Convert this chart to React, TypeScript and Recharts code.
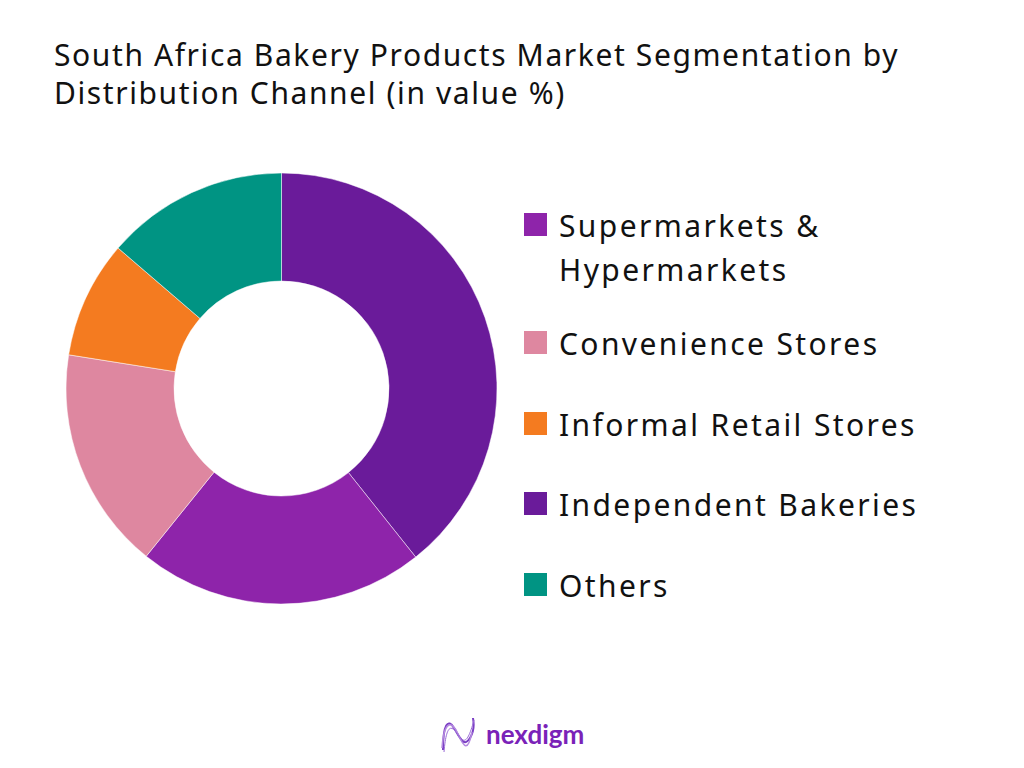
import React from 'react'
import { PieChart, Pie, Cell, Legend } from 'recharts'

// slice order, clockwise from 12 o'clock
const sliceNames = ['Independent Bakeries', 'Supermarkets & Hypermarkets', 'Convenience Stores', 'Informal Retail Stores', 'Others']
const sliceValues = [39.3, 21.5, 16.7, 8.8, 13.7]
const sliceColors = ['#6A1B9A', '#8E24AA', '#DE87A0', '#F47B20', '#009483']

// legend order as shown in the picture
const legendNames = ['Supermarkets & Hypermarkets', 'Convenience Stores', 'Informal Retail Stores', 'Independent Bakeries', 'Others']
const legendLines = [['Supermarkets &', 'Hypermarkets'], ['Convenience Stores'], ['Informal Retail Stores'], ['Independent Bakeries'], ['Others']]

const data = sliceNames.map((name, i) => ({ name, value: sliceValues[i] }))

const FONT = '"Noto Sans", "Open Sans", sans-serif'

function LegendList() {
  return (
    <div style={{ fontFamily: FONT }}>
      {legendNames.map((name, i) => {
        const color = sliceColors[sliceNames.indexOf(name)]
        return (
          <div key={name} style={{ display: 'flex', alignItems: 'flex-start', marginBottom: i === 0 ? 30 : 36.5 }}>
            <div style={{ width: 23, height: 23, background: color, marginTop: 9, marginRight: 12, flexShrink: 0 }} />
            <div style={{ fontSize: 30, lineHeight: '44px', color: '#111', letterSpacing: 2.4 }}>
              {legendLines[i].map((l) => (
                <div key={l}>{l}</div>
              ))}
            </div>
          </div>
        )
      })}
    </div>
  )
}

function Logo() {
  return (
    <div style={{ position: 'absolute', left: 440, top: 714, display: 'flex', alignItems: 'center' }}>
      <svg width="36" height="40" viewBox="0 0 36 40">
        <path d="M3 36 C3 10, 8 4, 14 14 S 24 34, 30 24 S 33 6, 33 4" fill="none" stroke="#7B3FC4" strokeWidth="2" />
        <path d="M2 34 C4 6, 12 6, 18 20 S 28 38, 32 18" fill="none" stroke="#B58AE0" strokeWidth="1.5" />
        <path d="M4 38 C6 14, 10 10, 16 18 S 26 36, 34 6" fill="none" stroke="#9B6AD8" strokeWidth="1" />
      </svg>
      <span style={{ fontFamily: 'Lato, "Noto Sans", sans-serif', fontWeight: 700, fontSize: 26, color: '#7A22B8', marginLeft: 10 }}>
        nexdigm
      </span>
    </div>
  )
}

export default function App() {
  return (
    <div style={{ position: 'absolute', left: 0, top: 0, width: 1024, height: 768, background: '#fff', overflow: 'hidden' }}>
      <div
        style={{
          position: 'absolute',
          left: 54,
          top: 36,
          fontFamily: FONT,
          fontSize: 30,
          lineHeight: '38px',
          letterSpacing: 1.6,
          color: '#111',
          width: 960,
          whiteSpace: 'nowrap',
        }}
      >
        South Africa Bakery Products Market Segmentation by
        <br />
        Distribution Channel (in value %)
      </div>
      <PieChart
        width={1024}
        height={768}
        margin={{ top: 0, right: 0, bottom: 0, left: 0 }}
        style={{ position: 'absolute', left: 0, top: 0 }}
      >
        <Pie
          data={data}
          dataKey="value"
          nameKey="name"
          cx={281.5}
          cy={388.5}
          innerRadius={107.5}
          outerRadius={215.5}
          startAngle={90}
          endAngle={-270}
          stroke="#fff"
          strokeWidth={0.5}
          isAnimationActive={false}
        >
          {data.map((d, i) => (
            <Cell key={d.name} fill={sliceColors[i]} />
          ))}
        </Pie>
        <Legend
          layout="vertical"
          content={() => <LegendList />}
          wrapperStyle={{ position: 'absolute', left: 524, top: 204, width: 490 }}
        />
      </PieChart>
      <Logo />
    </div>
  )
}
